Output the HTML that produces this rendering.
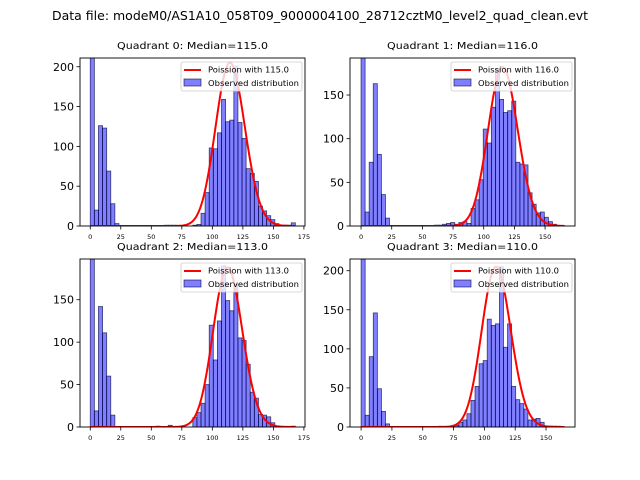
<!DOCTYPE html>
<html><head><meta charset="utf-8">
<style>
body{margin:0;background:#fff;}
svg{display:block;font-family:"DejaVu Sans","Liberation Sans",sans-serif;}
</style></head>
<body>
<svg id="fig" width="640" height="480" viewBox="0 0 640 480">
<rect x="0" y="0" width="640" height="480" fill="#fff"/>
<text x="320" y="20" text-anchor="middle" font-size="12" textLength="536" lengthAdjust="spacingAndGlyphs">Data file: modeM0/AS1A10_058T09_9000004100_28712cztM0_level2_quad_clean.evt</text>
</svg>
<script>
const medians = [115, 116, 113, 110];
const peaks = [205, 182, 188, 205];
const binWidths = [3.36, 3.32, 3.36, 3.3];
const counts0 = [215,20,126,123,69,28,3,0,0,0,0,0,0,0,0,0,0,0,1,1,1,0,0,0,0,1,2,16,42,98,97,117,159,131,133,201,130,110,72,66,56,25,19,13,8,3,1,1,1,4];
const counts1 = [195,16,73,163,82,36,9,0,0,0,0,0,0,0,0,0,0,0,1,1,2,3,4,2,4,5,3,20,30,53,111,95,136,180,145,130,132,143,73,71,70,38,25,15,16,10,5,2,0,0];
const counts2 = [198,19,142,111,60,14,0,0,0,0,0,0,0,0,0,0,1,0,0,2,0,0,0,0,0,11,17,28,50,120,79,125,190,149,137,168,105,102,74,41,34,15,14,12,5,1,0,0,0,1];
const counts3 = [215,15,90,146,49,20,4,0,0,0,0,0,0,0,0,0,0,0,0,1,0,0,1,2,6,9,17,34,52,81,85,138,130,132,205,102,132,52,35,30,23,9,10,11,6,1,1,1,1,0];
const yTicks0 = [0,50,100,150,200];
const yTicks1 = [0,50,100,150];
const yTicks2 = [0,50,100,150];
const yTicks3 = [0,50,100,150,200];
const xTicksA = [0,25,50,75,100,125,150,175];
const xTicksB = [0,25,50,75,100,125,150];

const NS="http://www.w3.org/2000/svg";
const fig=document.getElementById('fig');
function mk(tag,attrs,parent){const e=document.createElementNS(NS,tag);for(const k in attrs)e.setAttribute(k,attrs[k]);(parent||fig).appendChild(e);return e;}
function lgamma(n){let s=0;for(let i=2;i<=Math.floor(n);i++)s+=Math.log(i);const f=n-Math.floor(n);if(f>0){s+=f*Math.log(Math.floor(n)+1);}return s;}
function pmf(k,mu){return Math.exp(k*Math.log(mu)-mu-lgamma(k));}
const widen=1.12;

const panels=[
 {counts:counts0,yt:yTicks0,xt:xTicksA,box:[80,58,305,226],xr:[-8.4,175.9],ymax:211},
 {counts:counts1,yt:yTicks1,xt:xTicksB,box:[350,58,575,226],xr:[-9,174.4],ymax:192.4},
 {counts:counts2,yt:yTicks2,xt:xTicksA,box:[80,259,305,427],xr:[-8.4,175.9],ymax:198},
 {counts:counts3,yt:yTicks3,xt:xTicksB,box:[350,259,575,427],xr:[-9,173.5],ymax:215}
];
panels.forEach((p,i)=>{
 const [L,T,R,B]=p.box;
 const g=mk('g',{});
 
 
 const sx=v=>L+(v-p.xr[0])/(p.xr[1]-p.xr[0])*(R-L);
 const sy=v=>B-Math.min(v,p.ymax*1.02)/p.ymax*(B-T);
 const t=mk('text',{x:(L+R)/2,y:T-9,'text-anchor':'middle','font-size':'10',textLength:'151',lengthAdjust:'spacingAndGlyphs'},g);
 t.textContent='Quadrant '+i+': Median='+medians[i].toFixed(1);
 
 
 const clip=mk('clipPath',{id:'c'+i},g);mk('rect',{x:L,y:T,width:R-L,height:B-T},clip);
 const bars=mk('g',{'clip-path':'url(#c'+i+')'},g);
 const bw=binWidths[i];
 p.counts.forEach((c,j)=>{
  if(c<=0)return;
  const x0=sx(j*bw),x1=sx((j+1)*bw);
  const r=mk('rect',{x:x0,y:sy(c),width:x1-x0,height:B-sy(c),fill:'rgba(0,0,255,0.5)',stroke:'rgba(0,0,60,0.7)','stroke-width':'0.8'},bars);
  
  
 });
 const mu=medians[i];
 const maxk=Math.round(50*bw);
 const A=peaks[i]/pmf(mu,mu);
 let d='';
 for(let k=0;k<=maxk;k++){
  const kk=Math.max(0,mu+(k-mu)/widen);
  d+=(k?'L':'M')+sx(k).toFixed(2)+','+sy(A*pmf(kk,mu)).toFixed(2);
 }
 const pl=mk('path',{d:d,fill:'none',stroke:'#ff0000','stroke-width':'2'},bars);
 
 
 mk('rect',{x:L,y:T,width:R-L,height:B-T,fill:'none',stroke:'#000','stroke-width':'0.9'},g);
 p.yt.forEach(v=>{
  const y=sy(v);
  mk('line',{x1:L-3.5,x2:L,y1:y,y2:y,stroke:'#000','stroke-width':'0.8'},g);
  const tt=mk('text',{x:L-6,y:y+4,'text-anchor':'end','font-size':'11'},g);
  tt.textContent=v;
  
  
 });
 p.xt.forEach(v=>{
  const x=sx(v);
  mk('line',{x1:x,x2:x,y1:B,y2:B+3.5,stroke:'#000','stroke-width':'0.8'},g);
  const tt=mk('text',{x:x,y:B+13,'text-anchor':'middle','font-size':'6.5'},g);
  tt.textContent=v;
  
  
 });
 const lg=mk('g',{},g);
 
 
 const lx=R-124,ly=T+4;
 mk('rect',{x:lx,y:ly,width:121,height:29,fill:'rgba(255,255,255,0.8)',stroke:'#ccc','stroke-width':'0.8',rx:2},lg);
 mk('line',{x1:lx+3,x2:lx+20,y1:ly+8,y2:ly+8,stroke:'#f00','stroke-width':'2'},lg);
 const l1=mk('text',{x:lx+27,y:ly+10.5,'font-size':'7.5',textLength:'81',lengthAdjust:'spacingAndGlyphs'},lg);l1.textContent='Poission with '+mu.toFixed(1);
 mk('rect',{x:lx+3,y:ly+17,width:17,height:7,fill:'rgba(0,0,255,0.5)',stroke:'rgba(0,0,60,0.7)','stroke-width':'0.8'},lg);
 const l2=mk('text',{x:lx+27,y:ly+24,'font-size':'7.5',textLength:'91',lengthAdjust:'spacingAndGlyphs'},lg);l2.textContent='Observed distribution';
});
</script>
</body></html>
